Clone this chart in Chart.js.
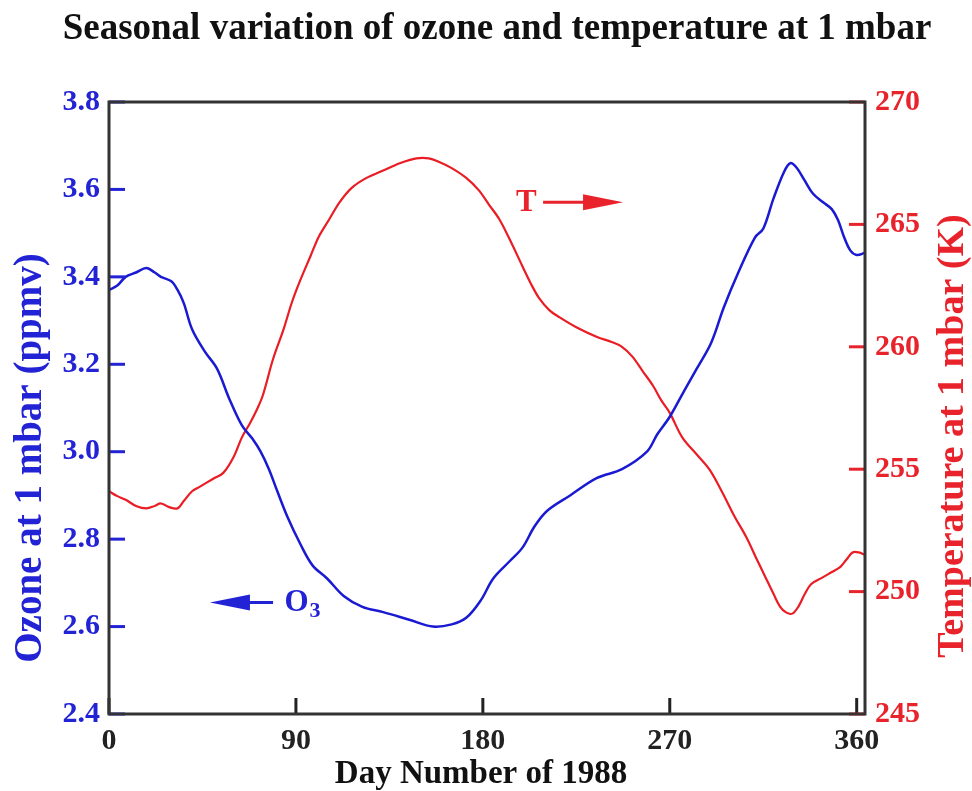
<!DOCTYPE html>
<html>
<head>
<meta charset="utf-8">
<script src="https://cdn.jsdelivr.net/npm/chart.js@4/dist/chart.umd.min.js"></script>
<style>
html,body{margin:0;padding:0;background:#fff;}
#wrap{width:972px;height:791px;position:relative;}
</style>
</head>
<body>
<div id="wrap"><canvas id="c" width="972" height="791"></canvas></div>
<script>
// ---- data ----
const ozoneDays = [0,4,8,13,18,22,25,30,33,36,40,46,52,58,64,69,73,77,81,86,92,98,105,113,122,132,145,156,165,172,179,185,193,199,205,211,222,235,247,259,264,270,277,283,290,296,303,311,315,320,325,328,331,335,339,344,348,351,354,357,360,364];
const ozoneVals = [3.37,3.38,3.40,3.41,3.42,3.41,3.40,3.39,3.37,3.34,3.28,3.23,3.19,3.12,3.06,3.03,3.00,2.96,2.91,2.85,2.79,2.74,2.71,2.67,2.645,2.633,2.615,2.60,2.605,2.62,2.66,2.71,2.75,2.78,2.83,2.865,2.90,2.94,2.96,3.00,3.04,3.08,3.14,3.19,3.25,3.33,3.41,3.49,3.51,3.58,3.64,3.66,3.65,3.62,3.59,3.57,3.555,3.53,3.49,3.46,3.45,3.455];

const tempDays = [0,4,8,13,18,22,25,29,33,36,40,44,50,55,60,64,68,71,74,79,84,88,92,97,101,106,111,117,124,132,140,148,154,159,165,172,178,183,188,194,199,203,207,212,217,225,235,242,247,252,257,262,266,270,276,283,289,295,301,307,312,316,320,323,326,329,332,335,338,343,348,352,355,358,361,364];
const tempVals = [254.1,253.9,253.75,253.5,253.4,253.5,253.6,253.45,253.4,253.7,254.1,254.3,254.6,254.85,255.5,256.3,256.9,257.4,258.0,259.5,260.7,261.8,262.7,263.7,264.5,265.2,265.9,266.5,266.9,267.2,267.5,267.7,267.7,267.55,267.3,266.9,266.4,265.8,265.2,264.2,263.3,262.6,262.0,261.5,261.2,260.8,260.4,260.2,260.0,259.6,259.0,258.4,257.8,257.3,256.3,255.6,255.0,254.1,253.1,252.2,251.3,250.6,249.9,249.4,249.15,249.1,249.4,249.9,250.3,250.55,250.8,251.0,251.3,251.6,251.6,251.5];

const xTicks = [0,90,180,270,360];
const ozoneTicks = [2.4,2.6,2.8,3.0,3.2,3.4,3.6,3.8];
const tempTicks = [245,250,255,260,265,270];

const titleText = 'Seasonal variation of ozone and temperature at 1 mbar';
const xTitle = 'Day Number of 1988';
const yLeftTitle = 'Ozone at 1 mbar (ppmv)';
const yRightTitle = 'Temperature at 1 mbar (K)';

const BLUE = '#2323d6';
const RED = '#e8232b';
const FRAME = '#333333';
const FONT = '"Liberation Serif", "Times New Roman", serif';

const overlay = {
  id: 'overlay',
  afterDraw(chart) {
    const ctx = chart.ctx;
    const {left, right, top, bottom} = chart.chartArea;
    const sx = chart.scales.x, sy = chart.scales.y, sy1 = chart.scales.y1;
    ctx.save();
    ctx.lineWidth = 3;
    ctx.lineCap = 'butt';
    // inward tick marks
    ctx.strokeStyle = '#222';
    sx.ticks.forEach(t => {
      const px = sx.getPixelForValue(t.value);
      ctx.beginPath(); ctx.moveTo(px, bottom); ctx.lineTo(px, bottom - 16); ctx.stroke();
    });
    ctx.strokeStyle = BLUE;
    sy.ticks.forEach(t => {
      const py = sy.getPixelForValue(t.value);
      ctx.beginPath(); ctx.moveTo(left, py); ctx.lineTo(left + 16, py); ctx.stroke();
    });
    ctx.strokeStyle = RED;
    sy1.ticks.forEach(t => {
      const py = sy1.getPixelForValue(t.value);
      ctx.beginPath(); ctx.moveTo(right, py); ctx.lineTo(right - 16, py); ctx.stroke();
    });
    // frame
    ctx.strokeStyle = FRAME;
    ctx.lineWidth = 3;
    ctx.strokeRect(left, top, right - left, bottom - top);

    // title
    ctx.fillStyle = '#111';
    ctx.font = 'bold 37px ' + FONT;
    ctx.textAlign = 'center';
    ctx.textBaseline = 'alphabetic';
    ctx.fillText(titleText, 497, 39);

    // x title
    ctx.font = 'bold 33px ' + FONT;
    ctx.fillText(xTitle, 481, 783);

    // left y title
    ctx.save();
    ctx.translate(31, 458);
    ctx.rotate(-Math.PI / 2);
    ctx.fillStyle = BLUE;
    ctx.font = 'bold 39px ' + FONT;
    ctx.textBaseline = 'middle';
    ctx.fillText(yLeftTitle, 0, 0);
    ctx.restore();

    // right y title
    ctx.save();
    ctx.translate(953, 436);
    ctx.rotate(-Math.PI / 2);
    ctx.fillStyle = RED;
    ctx.font = 'bold 38px ' + FONT;
    ctx.textBaseline = 'middle';
    ctx.fillText(yRightTitle, 0, 0);
    ctx.restore();

    // annotation T ->
    const tY = sy1.getPixelForValue(265.9);
    const tX = sx.getPixelForValue(201);
    ctx.fillStyle = RED;
    ctx.font = 'bold 31px ' + FONT;
    ctx.textAlign = 'center';
    ctx.textBaseline = 'middle';
    ctx.fillText('T', tX, tY + 1);
    const a1 = sx.getPixelForValue(209), a2 = sx.getPixelForValue(247.5);
    ctx.strokeStyle = RED; ctx.lineWidth = 3;
    ctx.beginPath(); ctx.moveTo(a1, tY); ctx.lineTo(a2 - 30, tY); ctx.stroke();
    ctx.beginPath(); ctx.moveTo(a2, tY); ctx.lineTo(a2 - 40, tY - 8); ctx.lineTo(a2 - 40, tY + 8); ctx.closePath(); ctx.fill();

    // annotation <- O3
    const oY = sy.getPixelForValue(2.655);
    const oX = sx.getPixelForValue(84.5);
    ctx.fillStyle = BLUE;
    ctx.strokeStyle = BLUE;
    ctx.font = 'bold 31px ' + FONT;
    ctx.textAlign = 'left';
    ctx.fillText('O', oX, oY);
    const ow = ctx.measureText('O').width;
    ctx.font = 'bold 22px ' + FONT;
    ctx.fillText('3', oX + ow + 1, oY + 9);
    const b1 = sx.getPixelForValue(48.6), b2 = sx.getPixelForValue(79);
    ctx.beginPath(); ctx.moveTo(b1 + 30, oY); ctx.lineTo(b2, oY); ctx.stroke();
    ctx.beginPath(); ctx.moveTo(b1, oY); ctx.lineTo(b1 + 40, oY - 8); ctx.lineTo(b1 + 40, oY + 8); ctx.closePath(); ctx.fill();
    ctx.restore();
  }
};

new Chart(document.getElementById('c'), {
  type: 'line',
  data: {
    datasets: [
      {
        label: 'Ozone',
        data: ozoneDays.map((d, i) => ({x: d, y: ozoneVals[i]})),
        borderColor: '#1a1ad2',
        borderWidth: 2.5,
        pointRadius: 0,
        tension: 0.35,
        yAxisID: 'y'
      },
      {
        label: 'Temperature',
        data: tempDays.map((d, i) => ({x: d, y: tempVals[i]})),
        borderColor: '#ea1c24',
        borderWidth: 2.2,
        pointRadius: 0,
        tension: 0.35,
        yAxisID: 'y1'
      }
    ]
  },
  options: {
    responsive: false,
    animation: false,
    layout: {padding: {top: 102, left: 0, right: 0, bottom: 0}},
    plugins: {legend: {display: false}, tooltip: {enabled: false}, title: {display: false}},
    scales: {
      x: {
        type: 'linear', position: 'bottom', min: 0, max: 364,
        afterFit(s) { s.height = 77; },
        afterBuildTicks(s) { s.ticks = xTicks.map(v => ({value: v})); },
        grid: {display: false, drawTicks: false},
        border: {display: false},
        ticks: {
          color: '#222', padding: 9, maxRotation: 0, autoSkip: false,
          font: {family: FONT, size: 30, weight: 'bold'}
        }
      },
      y: {
        type: 'linear', position: 'left', min: 2.4, max: 3.8,
        afterFit(s) { s.width = 109; },
        afterBuildTicks(s) { s.ticks = ozoneTicks.map(v => ({value: v})); },
        grid: {display: false, drawTicks: false},
        border: {display: false},
        ticks: {
          color: BLUE, padding: 9, autoSkip: false,
          font: {family: FONT, size: 30, weight: 'bold'},
          callback: v => Number(v).toFixed(1)
        }
      },
      y1: {
        type: 'linear', position: 'right', min: 245, max: 270,
        afterFit(s) { s.width = 107; },
        afterBuildTicks(s) { s.ticks = tempTicks.map(v => ({value: v})); },
        grid: {display: false, drawTicks: false},
        border: {display: false},
        ticks: {
          color: RED, padding: 10, autoSkip: false,
          font: {family: FONT, size: 30, weight: 'bold'},
          callback: v => String(v)
        }
      }
    }
  },
  plugins: [overlay]
});
</script>
</body>
</html>
